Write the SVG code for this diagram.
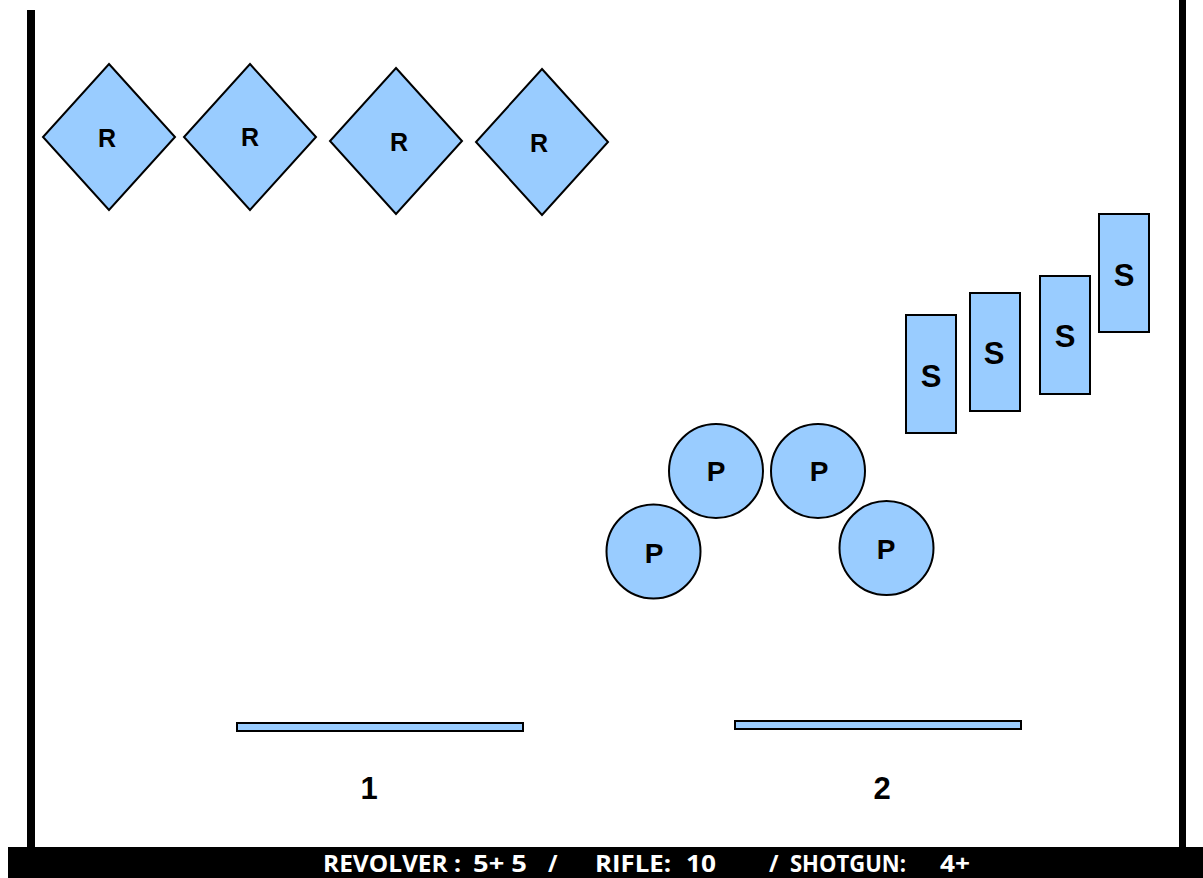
<svg xmlns="http://www.w3.org/2000/svg" width="1203" height="878" viewBox="0 0 1203 878">
<style>
.sh{fill:#99CCFF;stroke:#000;stroke-width:2}
.lb{font-family:"Liberation Sans",Arial,sans-serif;font-weight:bold;fill:#000;text-anchor:middle}
.ft{font-family:"Open Sans","Liberation Sans",sans-serif;font-weight:bold;fill:#fff;font-size:23px}
</style>
<rect width="1203" height="878" fill="#fff"/>
<g id="frame">
<rect x="27" y="10" width="8" height="840" fill="#000"/>
<rect x="1179" y="0" width="7" height="850" fill="#000"/>
<rect x="8" y="847" width="1195" height="31" fill="#000"/>
</g>
<g id="connectors"></g>
<g id="R1"><polygon class="sh" points="109,64 175,137 109,210 43,137"/><text class="lb" x="107" y="147" font-size="25">R</text></g>
<g id="R2"><polygon class="sh" points="250,64 316,137 250,210 184,137"/><text class="lb" x="250" y="146" font-size="25">R</text></g>
<g id="R3"><polygon class="sh" points="396,68 462,141 396,214 330,141"/><text class="lb" x="399" y="151" font-size="25">R</text></g>
<g id="R4"><polygon class="sh" points="542,69 608,142 542,215 476,142"/><text class="lb" x="539" y="152" font-size="25">R</text></g>
<g id="S1"><rect class="sh" x="906" y="315" width="50" height="118"/><text class="lb" x="931" y="387" font-size="31">S</text></g>
<g id="S2"><rect class="sh" x="970" y="293" width="50" height="118"/><text class="lb" x="994" y="364" font-size="31">S</text></g>
<g id="S3"><rect class="sh" x="1040" y="276" width="50" height="118"/><text class="lb" x="1065" y="347" font-size="31">S</text></g>
<g id="S4"><rect class="sh" x="1099" y="214" width="50" height="118"/><text class="lb" x="1124" y="286" font-size="31">S</text></g>
<g id="P1"><circle class="sh" cx="716" cy="471" r="47"/><text class="lb" x="716" y="481" font-size="28">P</text></g>
<g id="P2"><circle class="sh" cx="818" cy="471" r="47"/><text class="lb" x="819" y="481" font-size="28">P</text></g>
<g id="P3"><circle class="sh" cx="653.5" cy="551.5" r="47"/><text class="lb" x="654" y="563" font-size="28">P</text></g>
<g id="P4"><circle class="sh" cx="886.5" cy="548" r="47"/><text class="lb" x="886" y="559" font-size="28">P</text></g>
<g id="B1"><rect class="sh" x="237" y="723" width="286" height="8"/><text class="lb" x="369" y="799" font-size="31">1</text></g>
<g id="B2"><rect class="sh" x="735" y="721" width="286" height="8"/><text class="lb" x="882" y="799" font-size="31">2</text></g>
<g id="footer">
<text class="ft" x="323" y="872" textLength="138" lengthAdjust="spacingAndGlyphs">REVOLVER :</text>
<text class="ft" x="473" y="872" textLength="54" lengthAdjust="spacingAndGlyphs">5+ 5</text>
<text class="ft" x="548" y="872">/</text>
<text class="ft" x="595" y="872" textLength="76" lengthAdjust="spacingAndGlyphs">RIFLE:</text>
<text class="ft" x="686" y="872" textLength="30" lengthAdjust="spacingAndGlyphs">10</text>
<text class="ft" x="769" y="872">/</text>
<text class="ft" x="790" y="872" textLength="116" lengthAdjust="spacingAndGlyphs">SHOTGUN:</text>
<text class="ft" x="940" y="872" textLength="30" lengthAdjust="spacingAndGlyphs">4+</text>
</g>
</svg>
